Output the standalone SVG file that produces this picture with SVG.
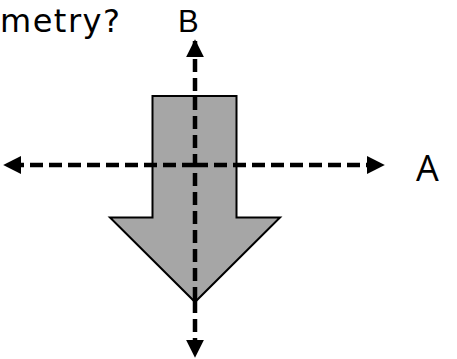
<svg xmlns="http://www.w3.org/2000/svg" width="457" height="359" viewBox="0 0 457 359">
<defs>
<style>
.lbl{font-family:"Open Sans","Liberation Sans",sans-serif;fill:#000}
.lblB{font-family:"Liberation Sans",sans-serif;fill:#000}
.q{font-family:"DejaVu Sans",sans-serif;font-size:32px;letter-spacing:1.5px;fill:#000}
.axis{stroke:#000;stroke-width:4.5;stroke-dasharray:13 6;fill:none}
.shape{fill:#a6a6a6;stroke:#000;stroke-width:2}
</style>
<marker id="ah" viewBox="0 0 10 10" refX="9" refY="5" markerWidth="4" markerHeight="4" orient="auto" markerUnits="strokeWidth">
<path d="M0,0 L10,5 L0,10 z" fill="#000"/>
</marker>
</defs>
<rect width="457" height="359" fill="#fff"/>
<text class="q" x="0" y="32">metry?</text>
<g id="shape">
<polygon class="shape" points="152.5,96 236.5,96 236.5,217.5 280,217.5 195,302 110,217.5 152.5,217.5"/>
</g>
<g id="connectors">
<line class="axis" x1="195" y1="300" x2="195" y2="356" marker-end="url(#ah)"/>
<line class="axis" x1="195" y1="300" x2="195" y2="41" marker-end="url(#ah)"/>
<line class="axis" x1="195" y1="165" x2="383" y2="165" marker-end="url(#ah)"/>
<line class="axis" x1="195" y1="165" x2="5" y2="165" marker-end="url(#ah)"/>
</g>
<g id="labelA"><text class="lbl" x="416" y="181" font-size="36">A</text></g>
<g id="labelB"><text class="lblB" x="178" y="32" font-size="31">B</text></g>
</svg>
